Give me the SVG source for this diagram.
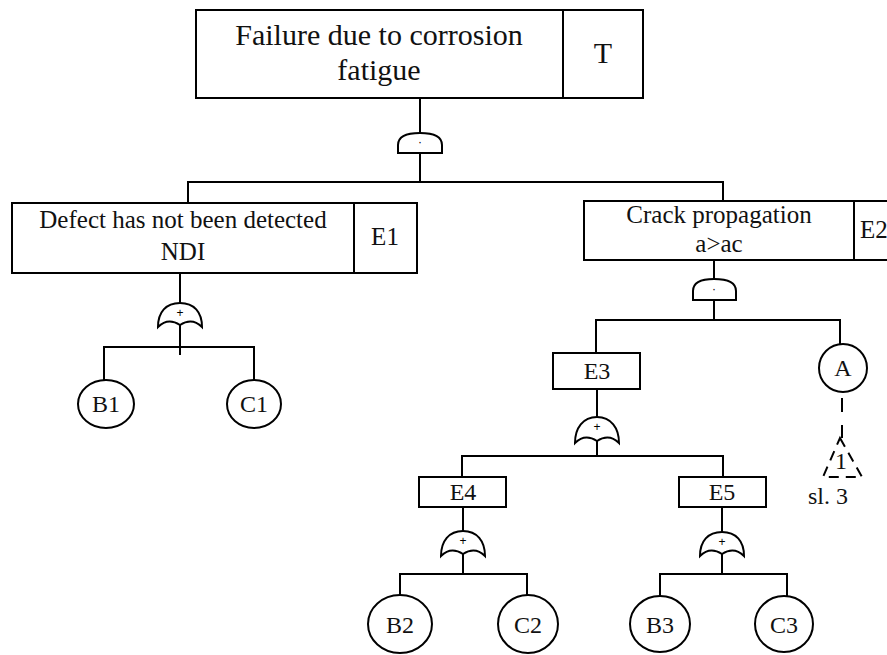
<svg xmlns="http://www.w3.org/2000/svg" width="887" height="655" viewBox="0 0 887 655">
<defs>
<style>
.box{fill:#fff;stroke:#000;stroke-width:2}
.ln{fill:none;stroke:#000;stroke-width:2}
.gate{fill:#fff;stroke:#000;stroke-width:2}
.t{font-family:"Liberation Serif","Times New Roman",serif;fill:#111;text-anchor:middle}
.big{font-size:30px}
.mid{font-size:25px}
.sm{font-size:24px}
.sym{font-family:"Liberation Sans",Arial,sans-serif;font-size:12px;fill:#000;text-anchor:middle}
</style>
</defs>
<rect width="887" height="655" fill="#fff"/>

<g id="connectors">
  <path class="ln" d="M420,98 V133 M420,153 V182 M188,203 V182 H723 V201"/>
  <path class="ln" d="M180,273 V303 M180,325 V355 M104,380 V347 H254 V380"/>
  <path class="ln" d="M714,260 V279 M714,300 V320 M596,353 V320 H840 V345"/>
  <path class="ln" d="M597,389 V417 M597,439 V456 M462,477 V456 H723 V477"/>
  <path class="ln" d="M463,507 V531 M463,553 V574 M400,595 V574 H527 V595"/>
  <path class="ln" d="M722,507 V532 M722,554 V574 M660,597 V574 H787 V597"/>
  <path class="ln" d="M842,398 V438" stroke-dasharray="14 13"/>
</g>

<g id="T">
  <rect class="box" x="196" y="10" width="367" height="88"/>
  <rect class="box" x="563" y="10" width="80" height="88"/>
  <text class="t big" x="379" y="45">Failure due to corrosion</text>
  <text class="t big" x="379" y="80">fatigue</text>
  <text class="t big" x="603" y="63">T</text>
</g>

<g id="gate-T">
  <path class="gate" d="M398,153 V145 C398,137 406,133 420,133 C434,133 442,137 442,145 V153 Z"/>
  <text class="sym" x="420" y="146">·</text>
</g>

<g id="E1">
  <rect class="box" x="12" y="203" width="342" height="70"/>
  <rect class="box" x="354" y="203" width="63" height="70"/>
  <text class="t mid" x="183" y="228">Defect has not been detected</text>
  <text class="t mid" x="183" y="260">NDI</text>
  <text class="t mid" x="385" y="245">E1</text>
</g>

<g id="gate-E1">
  <path class="gate" d="M158,327 C158,312 166,303 180,303 C194,303 202,312 202,327 Q192,317 180,325 Q168,317 158,327 Z"/>
  <text class="sym" x="180" y="317">+</text>
</g>

<g id="B1"><ellipse class="box" cx="106" cy="404" rx="28" ry="24"/><text class="t sm" x="106" y="412">B1</text></g>
<g id="C1"><ellipse class="box" cx="254" cy="404" rx="27" ry="24"/><text class="t sm" x="254" y="412">C1</text></g>

<g id="E2">
  <rect class="box" x="584" y="201" width="270" height="59"/>
  <rect class="box" x="854" y="201" width="40" height="59"/>
  <text class="t mid" x="719" y="223">Crack propagation</text>
  <text class="t mid" x="719" y="252">a&gt;ac</text>
  <text class="t mid" x="860" y="238" text-anchor="start" style="text-anchor:start">E2</text>
</g>

<g id="gate-E2">
  <path class="gate" d="M693,300 V291 C693,283 700,279 714,279 C728,279 736,283 736,291 V300 Z"/>
  <text class="sym" x="714" y="293">·</text>
</g>

<g id="E3">
  <rect class="box" x="553" y="353" width="87" height="36"/>
  <text class="t sm" x="597" y="379">E3</text>
</g>

<g id="gate-E3">
  <path class="gate" d="M575,443 C575,428 583,417 597,417 C611,417 619,428 619,443 Q609,433 597,441 Q585,433 575,443 Z"/>
  <text class="sym" x="597" y="431">+</text>
</g>

<g id="A">
  <ellipse class="box" cx="843" cy="368" rx="24" ry="24"/>
  <text class="t sm" x="843" y="376">A</text>
</g>

<g id="transfer-1">
  <path class="ln" d="M840,438 L862,477 H823 Z" stroke-dasharray="10 7"/>
  <text class="t sm" x="841" y="469">1</text>
  <text class="t sm" x="828" y="504">sl. 3</text>
</g>

<g id="E4">
  <rect class="box" x="419" y="477" width="87" height="30"/>
  <text class="t sm" x="463" y="500">E4</text>
</g>

<g id="gate-E4">
  <path class="gate" d="M441,556 C441,541 449,531 463,531 C477,531 485,541 485,556 Q475,546 463,554 Q451,546 441,556 Z"/>
  <text class="sym" x="463" y="545">+</text>
</g>

<g id="E5">
  <rect class="box" x="679" y="477" width="87" height="30"/>
  <text class="t sm" x="722" y="500">E5</text>
</g>

<g id="gate-E5">
  <path class="gate" d="M700,556 C700,541 708,532 722,532 C736,532 744,541 744,556 Q734,546 722,554 Q710,546 700,556 Z"/>
  <text class="sym" x="722" y="546">+</text>
</g>

<g id="B2"><ellipse class="box" cx="400" cy="624" rx="32" ry="29"/><text class="t sm" x="400" y="633">B2</text></g>
<g id="C2"><ellipse class="box" cx="528" cy="624" rx="30" ry="29"/><text class="t sm" x="528" y="633">C2</text></g>
<g id="B3"><ellipse class="box" cx="660" cy="624" rx="30" ry="28"/><text class="t sm" x="660" y="633">B3</text></g>
<g id="C3"><ellipse class="box" cx="784" cy="624" rx="29" ry="28"/><text class="t sm" x="784" y="633">C3</text></g>
</svg>
